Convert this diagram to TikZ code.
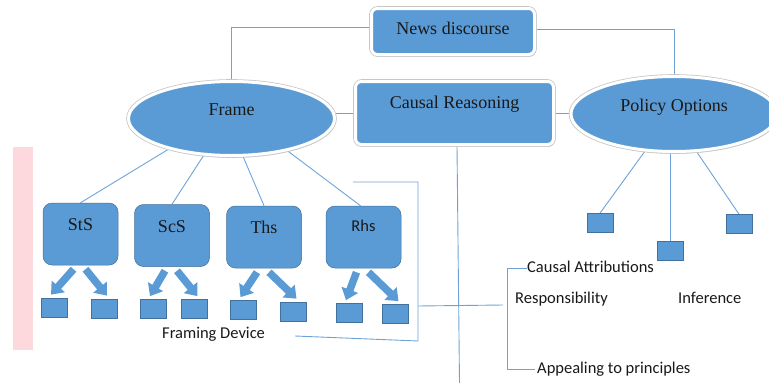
\documentclass[tikz,border=0pt]{standalone}
\usepackage{fontspec}
\setmainfont{Liberation Serif}
\newfontfamily\calfont{Carlito}
\usetikzlibrary{shapes.geometric,shadows,arrows.meta}
\pgfdeclarelayer{bg}
\pgfsetlayers{bg,main}
\definecolor{blu}{HTML}{5B9BD5}
\definecolor{bord}{HTML}{41719C}
\definecolor{lin}{HTML}{6FA3D8}
\definecolor{pinkb}{HTML}{FDD9DD}
\begin{document}
\begin{tikzpicture}[x=1pt,y=-1pt,
  conn/.style={draw=lin, line width=0.9pt},
  shad/.style={drop shadow={shadow xshift=1.2pt, shadow yshift=-2.2pt, fill=black!40, opacity=0.5},
    preaction={draw=black!22, line width=4.6pt}},
  mainbox/.style={rectangle, rounded corners=6pt, fill=blu, draw=white, line width=3pt, shad,
    font=\fontsize{18}{20}\selectfont, inner sep=0pt, text=black!90},
  mainell/.style={ellipse, fill=blu, draw=white, line width=3pt, shad,
    font=\fontsize{18}{20}\selectfont, inner sep=0pt, text=black!90},
  fbox/.style={rectangle, rounded corners=9pt, fill=blu, draw=bord, line width=0.5pt,
    minimum width=75pt, minimum height=62pt, inner sep=0pt,
    font=\fontsize{18}{20}\selectfont, text height=12pt, text depth=19pt, text=black!90},
  sq/.style={rectangle, fill=blu, draw=bord, line width=0.7pt,
    minimum width=26pt, minimum height=19pt, inner sep=0pt},
  barrow/.style={draw=blu, line width=7.5pt, -{Triangle[width=17pt,length=11pt]}},
  txt/.style={font=\calfont\fontsize{16.5}{18}\selectfont, inner sep=0pt,
    text height=11pt, text depth=3pt, anchor=west, text=black!90}
]
\useasboundingbox (0,0) rectangle (769,383);

% main nodes
\node[mainbox, minimum width=163pt, minimum height=46pt, text height=13pt, text depth=8pt] (news) at (453,31.5) {News discourse};
\node[mainbox, minimum width=198pt, minimum height=63pt, text height=12pt, text depth=22pt] (cr) at (454.5,113) {Causal Reasoning};
\node[mainell, minimum width=206pt, minimum height=74pt, text height=12pt, text depth=19pt] (frame) at (231.5,118.5) {Frame};
\node[mainell, minimum width=206pt, minimum height=75pt, text height=12pt, text depth=18pt] (po) at (674,114) {Policy Options};

% framing boxes
\node[fbox] (sts) at (80.5,234) {StS};
\node[fbox] (scs) at (172,235.5) {ScS};
\node[fbox] (ths) at (264,237) {Ths};
\node[fbox, font=\calfont\fontsize{16.5}{18}\selectfont, text height=11pt, text depth=22pt] (rhs) at (363.5,237) {Rhs};

% small squares
\node[sq] (sts1) at (54,307.5) {};
\node[sq] (sts2) at (104,308.5) {};
\node[sq] (scs1) at (153,309) {};
\node[sq] (scs2) at (194.5,309) {};
\node[sq] (ths1) at (243.5,310) {};
\node[sq] (ths2) at (293.5,311.5) {};
\node[sq] (rhs1) at (349,313) {};
\node[sq] (rhs2) at (395.5,314) {};
\node[sq] (pb1) at (600,223) {};
\node[sq] (pb2) at (670,250.5) {};
\node[sq] (pb3) at (739,224) {};

% texts
\node[txt] (ca) at (527,268) {Causal Attributions};
\node[txt] (resp) at (515,299.6) {Responsibility};
\node[txt] (inf) at (678,299.6) {Inference};
\node[txt] (ap) at (537,369.6) {Appealing to principles};
\node[txt] (fd) at (162,334.6) {Framing Device};

% block arrows
\foreach \b in {sts,scs,ths,rhs}{
  \draw[barrow] ([xshift=-7pt,yshift=-4pt]\b.south) -- ([xshift=-3pt,yshift=3pt]\b1.north);
  \draw[barrow] ([xshift=5pt,yshift=-4pt]\b.south) -- ([xshift=3pt,yshift=3pt]\b2.north);
}

\coordinate (b1) at (353,182);
\coordinate (b2) at (418,182);
\coordinate (b3) at (418,341);
\coordinate (b4) at (295,336);
\coordinate (bm) at (418,306);
\coordinate (bme) at (503,305);
\coordinate (crend) at (459.5,383);

\begin{pgfonlayer}{bg}
  \fill[pinkb] (13,147) rectangle (33,350);
  \draw[conn] ([yshift=4pt]news.west) -| (frame.north);
  \draw[conn] ([yshift=2pt]news.east) -| (po.north);
  \draw[conn] (cr.west) -- (cr.west -| frame.east);
  \draw[conn] (cr.east) -- (po.west |- cr.east);
  \draw[conn] (sts.north) -- (frame.206);
  \draw[conn] (scs.north) -- (frame.233);
  \draw[conn] (ths.north) -- (frame.287);
  \draw[conn] ([xshift=-3pt]rhs.north) -- (frame.330);
  \draw[conn] (pb1.north) -- (po.232);
  \draw[conn] (pb2.north) -- (pb2.north |- po.south);
  \draw[conn] (pb3.north) -- (po.301);
  \draw[conn] (b1) -- (b2) -- (b3) -- (b4);
  \draw[conn] (bm) -- (bme);
  \draw[conn] ([xshift=2.5pt]cr.south) -- (crend);
  \draw[conn] (ca.west) -- ++(-20,0) |- ([xshift=-2pt]ap.west);
\end{pgfonlayer}
\end{tikzpicture}
\end{document}
